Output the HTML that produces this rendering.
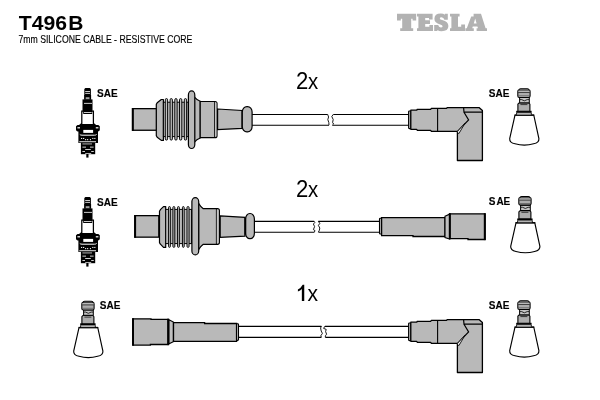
<!DOCTYPE html>
<html>
<head>
<meta charset="utf-8">
<title>T496B</title>
<style>
html,body{margin:0;padding:0;background:#fff;}
body{width:600px;height:400px;overflow:hidden;font-family:"Liberation Sans",sans-serif;}
svg{display:block;}
text{font-family:"Liberation Sans",sans-serif;}
</style>
</head>
<body>
<svg width="600" height="400" viewBox="0 0 600 400">
<defs>
<filter id="gs" x="0" y="0" width="600" height="400" filterUnits="userSpaceOnUse"><feOffset dx="0" dy="0"/></filter>
<!-- spark plug icon (row 1 coords) -->
<g id="plug">
  <path d="M85.4,88 H89.8 L90.9,89 V95.5 H84.3 V89 Z" fill="#000"/>
  <rect x="85.2" y="91" width="4.8" height="0.8" fill="#fff"/>
  <rect x="85.2" y="92.9" width="4.8" height="0.8" fill="#fff"/>
  <rect x="84.1" y="95" width="7" height="4.8" fill="#000"/>
  <rect x="85.7" y="97.2" width="3.8" height="2.2" fill="#a0a0a0"/>
  <rect x="82.5" y="99.4" width="10" height="12" fill="#000"/>
  <rect x="84" y="102.9" width="8" height="0.8" fill="#fff"/>
  <path d="M81.8,111.2 H93.4 V123.4 L94.8,124.6 H80.4 L81.8,123.4 Z" fill="#fff" stroke="#000" stroke-width="1.25"/>
  <rect x="83.2" y="111" width="9" height="3" fill="#000"/>
  <rect x="84" y="112.1" width="7.6" height="0.8" fill="#fff"/>
  <path d="M77.5,125 H98.3 L99.8,126.3 V130.2 L98.3,131.5 H77.5 L76,130.2 V126.3 Z" fill="#000"/>
  <rect x="78.4" y="131" width="19.6" height="12" fill="#000"/>
  <rect x="83.3" y="129.9" width="9.8" height="3" fill="#fff"/>
  <rect x="77.4" y="127.2" width="2.6" height="1.2" fill="#fff"/>
  <rect x="95.8" y="127.2" width="2.6" height="1.2" fill="#fff"/>
  <path d="M79.8,134.4 Q80.4,135.2 82,135.2 H94.4 Q96,135.2 96.6,134.4" stroke="#fff" stroke-width="1" fill="none"/>
  <rect x="81.1" y="137.9" width="1.1" height="1.1" fill="#fff"/>
  <rect x="83.1" y="137.9" width="1.1" height="1.1" fill="#fff"/>
  <rect x="85.1" y="139.1" width="1.1" height="1.1" fill="#fff"/>
  <rect x="87.1" y="139.1" width="1.1" height="1.1" fill="#fff"/>
  <rect x="89.9" y="139.1" width="1.1" height="1.1" fill="#fff"/>
  <rect x="92.3" y="137.9" width="1.1" height="1.1" fill="#fff"/>
  <rect x="94.3" y="137.9" width="1.1" height="1.1" fill="#fff"/>
  <rect x="79.3" y="141.3" width="16.7" height="1" fill="#fff"/>
  <rect x="80.9" y="142.6" width="14.3" height="11.6" fill="#000"/>
  <rect x="82.4" y="143.6" width="9.6" height="0.7" fill="#fff"/>
  <rect x="82.4" y="146.7" width="3.6" height="0.8" fill="#fff"/>
  <rect x="90" y="146.7" width="3.6" height="0.8" fill="#fff"/>
  <rect x="85.2" y="149" width="5.6" height="0.8" fill="#fff"/>
  <rect x="82.4" y="151" width="2.6" height="0.8" fill="#fff"/>
  <rect x="91.2" y="151" width="2.6" height="0.8" fill="#fff"/>
  <rect x="85.2" y="153" width="6" height="0.7" fill="#fff"/>
  <rect x="86.3" y="154" width="2.2" height="3.6" fill="#000"/>
</g>
<!-- terminal + boot icon (row 1 right coords) -->
<g id="term">
  <path d="M515,115.2 L509.7,138.6 Q509.4,142.6 515,143.8 Q524.3,146.3 533.6,143.8 Q539.2,142.6 538.9,138.6 L533.8,115.2 Z" fill="#fff" stroke="#000" stroke-width="1.15"/>
  <path d="M514.6,115 H534.2" stroke="#000" stroke-width="1.3" fill="none"/>
  <rect x="516.8" y="112.6" width="14.3" height="2" fill="#b4b4b4"/>
  <path d="M516.6,112.8 V114.6 M531.3,112.8 V114.6" stroke="#000" stroke-width="0.9" fill="none"/>
  <rect x="516.2" y="110.8" width="15.4" height="2" fill="#000"/>
  <path d="M517.9,104.2 L519,103 H528.8 L529.9,104.2 V111.2 H517.9 Z" fill="#adadad" stroke="#000" stroke-width="1.1"/>
  <path d="M520.4,104.6 H527.4" stroke="#000" stroke-width="0.7" fill="none"/>
  <rect x="519.6" y="97.4" width="9.7" height="5.4" fill="#c4c4c4" stroke="#000" stroke-width="1"/>
  <path d="M520,99.6 H521.6 Q524.3,102 527.2,99.6 H529" stroke="#000" stroke-width="0.8" fill="none"/>
  <path d="M520.6,88.8 H527.4 Q528.9,88.8 529.2,90.1 Q530.1,90.3 530.1,91.4 V95.9 Q530.1,97.4 528.6,97.4 H519.3 Q517.8,97.4 517.8,95.9 V91.4 Q517.8,90.3 518.7,90.1 Q519.1,88.8 520.6,88.8 Z" fill="#adadad" stroke="#000" stroke-width="1.05"/>
  <rect x="518.6" y="90.5" width="10.7" height="1.6" fill="#c8c8c8"/>
  <path d="M518.6,90.1 H529.3 M518.3,92.4 H529.6" stroke="#000" stroke-width="0.7" fill="none"/>
  <path d="M518.3,95.8 H529.6" stroke="#444" stroke-width="0.6" fill="none"/>
</g>
<!-- ribbed connector (row 1 coords) -->
<g id="conn">
  <rect x="132.6" y="108.65" width="24" height="21.6" fill="#b9b9b9" stroke="#000" stroke-width="1.3"/>
  <rect x="131.8" y="108" width="2" height="22.9" fill="#000"/>
  <path d="M156.3,104.4 L157.2,102.8 L161.3,99.5 H163.4 V140.4 H161.3 L157.2,137.2 L156.3,135.6 Z" fill="#b9b9b9" stroke="#000" stroke-width="1.2" stroke-linejoin="round"/>
  <rect x="163.4" y="102.2" width="25" height="34.4" fill="#b9b9b9" stroke="#000" stroke-width="1"/>
  <rect x="165.3" y="98.6" width="2.3" height="41.5" rx="1.15" fill="#c2c2c2" stroke="#000" stroke-width="0.95"/>
  <rect x="170.1" y="98.6" width="2.3" height="41.5" rx="1.15" fill="#c2c2c2" stroke="#000" stroke-width="0.95"/>
  <rect x="174.8" y="98.6" width="2.3" height="41.5" rx="1.15" fill="#c2c2c2" stroke="#000" stroke-width="0.95"/>
  <rect x="179.5" y="98.6" width="2.3" height="41.5" rx="1.15" fill="#c2c2c2" stroke="#000" stroke-width="0.95"/>
  <rect x="184.3" y="98.6" width="2.3" height="41.5" rx="1.15" fill="#c2c2c2" stroke="#000" stroke-width="0.95"/>
  <path d="M194.5,97.2 Q196.5,99.8 200.2,101.2 V138.1 Q196.5,139.5 194.5,142.1 Z" fill="#b9b9b9" stroke="#000" stroke-width="1.1"/>
  <path d="M200.2,101.5 H215 Q217,101.5 217,103.5 V135.7 Q217,137.7 215,137.7 H200.2 Z" fill="#b9b9b9" stroke="#000" stroke-width="1.2"/>
  <path d="M214.6,101.5 V137.7" stroke="#000" stroke-width="0.9" fill="none"/>
  <rect x="215.1" y="102.6" width="1.3" height="34" fill="#c6c6c6"/>
  <path d="M217.6,109 L242,110.5 V128.4 L217.6,129.7 Z" fill="#b9b9b9" stroke="#000" stroke-width="1.2"/>
  <rect x="242.3" y="106.6" width="9.8" height="25.3" rx="4.6" ry="5.5" fill="#b9b9b9" stroke="#000" stroke-width="1.2"/>
  <rect x="188.4" y="90.9" width="6.4" height="57.6" rx="3.2" ry="4" fill="#b9b9b9" stroke="#000" stroke-width="1.2"/>
</g>
<!-- ribbed connector row 2 (absolute coords) -->
<g id="conn2">
  <rect x="134.9" y="215.65" width="23.9" height="21.5" fill="#b9b9b9" stroke="#000" stroke-width="1.3"/>
  <rect x="134.1" y="215" width="2" height="22.8" fill="#000"/>
  <path d="M159.5,211.2 L160.4,209.7 L163.5,206.6 H165.7 V247.4 H163.5 L160.4,244.2 L159.5,242.6 Z" fill="#b9b9b9" stroke="#000" stroke-width="1.2" stroke-linejoin="round"/>
  <rect x="165.7" y="209.4" width="25.8" height="34.2" fill="#b9b9b9" stroke="#000" stroke-width="1"/>
  <rect x="168.55" y="206.6" width="1.8" height="40.7" rx="0.8" fill="#c2c2c2" stroke="#000" stroke-width="0.95"/>
  <rect x="172.9" y="206.6" width="1.9" height="40.7" rx="0.8" fill="#c2c2c2" stroke="#000" stroke-width="0.95"/>
  <rect x="177.55" y="206.6" width="1.8" height="40.7" rx="0.8" fill="#c2c2c2" stroke="#000" stroke-width="0.95"/>
  <rect x="182.45" y="206.6" width="1.75" height="40.7" rx="0.8" fill="#c2c2c2" stroke="#000" stroke-width="0.95"/>
  <rect x="187" y="206.6" width="2.05" height="40.7" rx="0.8" fill="#c2c2c2" stroke="#000" stroke-width="0.95"/>
  <path d="M198.6,203.2 Q200.6,206.8 203.3,208.7 H217.5 Q219.4,208.7 219.4,210.7 V242.3 Q219.4,244.3 217.5,244.3 H203.3 Q200.6,246.2 198.6,249.8 Z" fill="#b9b9b9" stroke="#000" stroke-width="1.2"/>
  <path d="M216.4,208.7 V244.3" stroke="#000" stroke-width="0.9" fill="none"/>
  <rect x="216.9" y="209.8" width="1.6" height="33.4" fill="#c6c6c6"/>
  <path d="M220.2,215.8 L244.9,217.4 V236.1 L220.2,237.4 Z" fill="#b9b9b9" stroke="#000" stroke-width="1.2"/>
  <rect x="245.6" y="213.5" width="8.8" height="25.2" rx="4.2" ry="5.5" fill="#b9b9b9" stroke="#000" stroke-width="1.2"/>
  <path d="M245.3,217.6 V234.6" stroke="#000" stroke-width="1.6" fill="none"/>
  <rect x="191.9" y="197.6" width="6.8" height="57.3" rx="3.4" ry="4" fill="#b9b9b9" stroke="#000" stroke-width="1.2"/>
</g>
<!-- angled boot (row 1 coords) -->
<g id="boot">
  <rect x="408.6" y="111" width="2.4" height="17.6" rx="0.8" fill="#b9b9b9" stroke="#000" stroke-width="1.1"/>
  <path d="M410.8,110.2 H416.6 L417.4,109.3 H430.6 L431.4,108.3 H446.6 L447.4,107.6 H479 L482.4,110.6 V160.5 H457.4 V131.4 H431.4 L430.6,130.3 H417.4 L416.6,129.3 H410.8 Z" fill="#b9b9b9" stroke="#000" stroke-width="1.3" stroke-linejoin="round"/>
  <path d="M437.6,108.3 V131.4" stroke="#000" stroke-width="1.1" fill="none"/>
  <path d="M463.6,107.6 L464,112.2 H482.4 M464,112.2 L468.6,120 L457.6,131.4" stroke="#000" stroke-width="1.2" fill="none"/>
  <path d="M456.9,132 L464.9,123.3 L458.9,133.6 Z" fill="#ececec" stroke="#000" stroke-width="0.85" stroke-linejoin="round"/>
</g>
</defs>

<rect width="600" height="400" fill="#fff"/>

<g filter="url(#gs)">
<!-- header -->
<text x="18.8" y="30.4" font-size="21" font-weight="bold" fill="#000" textLength="48.2" lengthAdjust="spacingAndGlyphs">T496</text>
<text x="68.3" y="30.4" font-size="21" font-weight="bold" fill="#000">B</text>
<text x="18.4" y="43" font-size="10.3" fill="#000" stroke="#000" stroke-width="0.15" textLength="174" lengthAdjust="spacingAndGlyphs">7mm SILICONE CABLE - RESISTIVE CORE</text>

</g>
<!-- TESLA logo -->
<g fill="#b2b2b2">
  <path d="M397,13.8 H416.2 V20.6 H412.6 V18.8 H411.2 V28.2 H413.2 V31 H400.2 V28.2 H402.2 V18.8 H400.8 V20.6 H397 Z"/>
  <path d="M417,13.8 H432.6 V19.6 H429 V18 H425.2 V20.2 H430 V24 H425.2 V26.8 H429.4 V25 H433 V31 H417 V28.2 H418.4 V16.6 H417 Z"/>
  <path d="M434.2,25 H438.2 Q438.6,27.4 440.8,27.4 Q442.6,27.4 442.6,26.2 Q442.6,25 440.2,24.4 Q434.4,23.2 434.4,18.8 Q434.4,13.6 440.8,13.6 Q443.6,13.6 444.8,14.8 V13.8 H447.8 V19.8 H444.4 Q443.8,17.2 441.4,17.2 Q439.8,17.2 439.8,18.4 Q439.8,19.4 442.2,20 Q448.4,21.4 448.4,26 Q448.4,31.2 441.6,31.2 Q438.8,31.2 437.4,30 V31 H434.2 Z"/>
  <path d="M450,13.8 H459.6 V16.6 H458 V26.8 H461.2 V24.4 H465 V31 H450 V28.2 H451.4 V16.6 H450 Z"/>
  <path d="M473.6,13.8 H481 L485.6,28.2 H487 V31 H476.6 V28.2 H478 L477.4,26.4 H472.8 L472.2,28.2 H473.8 V31 H465.4 V28.2 H466.8 L471.2,16.6 H473.6 Z M475.2,18.6 L473.8,23.4 H476.6 Z"/>
</g>

<g filter="url(#gs)">
<!-- quantity labels -->
<text x="295.9" y="88.9" font-size="23" fill="#000" textLength="12.3" lengthAdjust="spacingAndGlyphs">2</text><text x="307.9" y="88.9" font-size="22.5" fill="#000" textLength="10.18" lengthAdjust="spacingAndGlyphs">x</text>
<text x="295.9" y="197" font-size="23" fill="#000" textLength="12.3" lengthAdjust="spacingAndGlyphs">2</text><text x="307.9" y="197" font-size="22.5" fill="#000" textLength="10.18" lengthAdjust="spacingAndGlyphs">x</text>
<path d="M304.25,284.8 V300.9 H301.85 V288.9 Q300.3,290.5 297.9,291.4 V289.5 Q301,288 302.7,284.8 Z" fill="#000"/><text x="307.6" y="300.8" font-size="22.5" fill="#000" textLength="10.5" lengthAdjust="spacingAndGlyphs">x</text>

<!-- SAE labels -->
<g font-size="10" font-weight="bold" fill="#000" stroke="#000" stroke-width="0.15">
  <text x="97" y="97">SAE</text>
  <text x="488.8" y="97">SAE</text>
  <text x="97" y="206">SAE</text>
  <text x="488.8" y="204.8">S</text><text x="496.4" y="204.8">AE</text>
  <text x="99.8" y="309.2">SAE</text>
  <text x="488.8" y="309.2">SAE</text>
</g>

</g>
<!-- ROW 1 -->
<g stroke="#000" stroke-width="1.15" fill="none">
  <path d="M252,114.45 H327.6 M252,125.25 H329 M333.4,114.45 H408.6 M332.4,125.25 H408.6"/>
  <path d="M327.6,114.3 L328.6,117 L327.8,119.5 L328.8,122.5 L329,125.1 M333.4,114.3 L331.8,116.5 L333.2,119.5 L332.6,122.5 L333.6,124 L332.4,125.1" stroke-width="0.9"/>
</g>
<use href="#plug"/>
<use href="#conn"/>
<use href="#boot"/>
<use href="#term"/>

<!-- ROW 2 -->
<g stroke="#000" stroke-width="1.15" fill="none">
  <path d="M254.6,221.35 H314.2 M254.6,232.25 H314.4 M318.3,221.35 H379.6 M318.4,232.25 H379.6"/>
  <path d="M314.2,221.3 L314.8,222.6 L313.4,224 L314.6,226.6 L313.4,229.6 L315,230.6 L314.4,232.1 M318.3,221.3 L319.8,223.4 L318.4,225.4 L319.8,228 L319.4,230.2 L318.4,232.1" stroke-width="0.9"/>
</g>
<use href="#plug" transform="translate(0,109)"/>
<use href="#conn2"/>
<use href="#term" transform="translate(1,107.7)"/>
<!-- straight boot right -->
<g>
  <rect x="379.5" y="218.2" width="2.4" height="15.8" rx="0.8" fill="#b9b9b9" stroke="#000" stroke-width="1.1"/>
  <path d="M381.6,217.6 H445 V236.5 H413 V235.7 H381.6 Z" fill="#b9b9b9" stroke="#000" stroke-width="1.3"/>
  <path d="M445,216.2 L449.6,214.2 V239 L445,237.6 Z" fill="#c0c0c0" stroke="#000" stroke-width="1.1"/>
  <path d="M449.8,213.8 H485 V239.5 H468 V238.6 H449.8 Z" fill="#b9b9b9" stroke="#000" stroke-width="1.3"/>
  <rect x="448.8" y="213.2" width="2" height="26" fill="#000"/>
  <rect x="483.8" y="213.2" width="2" height="26.9" fill="#000"/>
</g>

<!-- ROW 3 -->
<g stroke="#000" stroke-width="1.15" fill="none">
  <path d="M238.4,326.3 H321.4 M238.4,337.3 H321.4 M324.9,326.3 H408.6 M325.3,337.3 H408.6"/>
  <path d="M321.4,326.2 L320.6,328 L321.2,331 L322.4,333.4 L320.8,335.8 L321.4,337.2 M324.9,326.2 L323.6,328.4 L326.2,329.4 L325.6,331.6 L326.6,334.2 L325.4,335.8 L325.3,337.2" stroke-width="0.9"/>
</g>
<!-- straight boot left -->
<g>
  <path d="M133,318.8 H151 V319.3 H168.2 V344.5 H150.4 V345.1 H133 Z" fill="#b9b9b9" stroke="#000" stroke-width="1.3"/>
  <rect x="132" y="318.2" width="2" height="27.5" fill="#000"/>
  <rect x="167.2" y="318.7" width="2" height="26.4" fill="#000"/>
  <path d="M169,319.8 L173.4,322 V341.7 L169,343.8 Z" fill="#c0c0c0" stroke="#000" stroke-width="1.1"/>
  <path d="M173.5,322.6 H204.6 V323.5 H236.6 V341.4 H173.5 Z" fill="#b9b9b9" stroke="#000" stroke-width="1.3"/>
  <rect x="236.5" y="323.8" width="2" height="16.6" rx="0.8" fill="#b9b9b9" stroke="#000" stroke-width="1.1"/>
</g>
<use href="#boot" transform="translate(0,212)"/>
<use href="#term" transform="translate(0,212)"/>
<use href="#term" transform="translate(-436.0,212.5)"/>
</svg>
</body>
</html>
